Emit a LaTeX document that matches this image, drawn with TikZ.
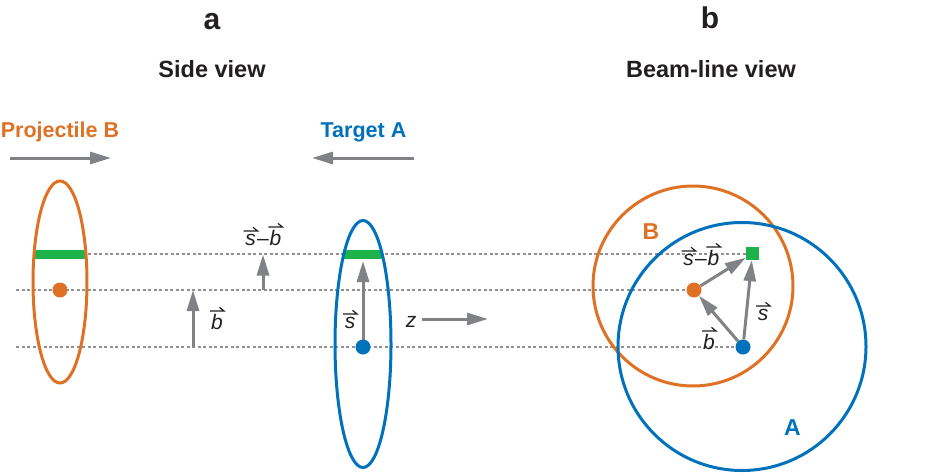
\documentclass[tikz,border=0pt]{standalone}
\usepackage{fontspec}
\setmainfont{Liberation Sans}
\usetikzlibrary{arrows.meta}
\definecolor{borange}{RGB}{222,113,36}
\definecolor{tblue}{RGB}{0,114,188}
\definecolor{sgreen}{RGB}{30,178,74}
\definecolor{agray}{RGB}{128,130,133}
\definecolor{lgray}{RGB}{145,145,145}
\definecolor{ink}{RGB}{35,31,32}
\newcommand\harpmark{\tikz[baseline=0pt]{\draw[ink, line width=1.2pt, line join=miter] (0pt,0pt) -- (14pt,0pt) -- (9.5pt,3.6pt);}}
\newcommand\vecl[1]{\vbox{\offinterlineskip\halign{\hfil##\hfil\cr\harpmark\cr\noalign{\kern2.2pt}\itshape #1\cr}}}
\begin{document}
\begin{tikzpicture}[x=1pt,y=-1pt,
  garrow/.style={draw=agray, line width=3pt, -{Triangle[length=21pt,width=12pt]}},
  guide/.style={draw=lgray, line width=1.2pt, dash pattern=on 3pt off 2.5pt},
  title/.style={font=\fontsize{23.5}{28}\bfseries\selectfont, text=ink, anchor=base, inner sep=0pt},
  panel/.style={font=\fontsize{30}{34}\bfseries\selectfont, text=ink, anchor=base, inner sep=0pt},
  lab/.style={font=\fontsize{21.5}{25}\bfseries\selectfont, anchor=base, inner sep=0pt},
  vlab/.style={font=\fontsize{21}{25}\selectfont, text=ink, anchor=base, inner sep=0pt},
  dot/.style={circle, inner sep=0pt, minimum size=15pt},
  ring/.style={line width=3pt}]
\useasboundingbox (0,0) rectangle (948,474);

% titles
\node[panel] (pa) at (212,29) {a};
\node[panel] (pb) at (710,28) {b};
\node[title] (sv) at (212,77) {Side view};
\node[title] (bv) at (711,77) {Beam-line view};
\node[lab, text=borange] (proj) at (60,137) {Projectile B};
\node[lab, text=tblue] (targ) at (363.5,137) {Target A};

% motion arrows
\coordinate (pr0) at (10,158); \coordinate (pr1) at (111,158);
\coordinate (ta0) at (414,158); \coordinate (ta1) at (312,158);
\draw[garrow] (pr0) -- (pr1);
\draw[garrow] (ta0) -- (ta1);

% key centres
\coordinate (Oc1) at (60,290);
\coordinate (Bc1) at (363,347);
\coordinate (Oc2) at (694,290);
\coordinate (Bc2) at (743,347);
\coordinate (Sq) at (752.5,253.5);

% guide lines
\coordinate (g1) at (88,254); \coordinate (g1e) at (746,254);
\coordinate (g2) at (16,290);
\coordinate (g3) at (16,347);
\draw[guide] (g1) -- (g1e);
\draw[guide] (g2) -- (Oc2);
\draw[guide] (g3) -- (Bc2);

% side view: projectile B
\begin{scope}
  \clip (60,282) ellipse [x radius=27, y radius=101];
  \fill[sgreen] (30,249.5) rectangle (90,258.5);
\end{scope}
\draw[borange, ring] (60,282) ellipse [x radius=27, y radius=101];
\node[dot, fill=borange] (od1) at (Oc1) {};

% side view: target A
\begin{scope}
  \clip (363,344) ellipse [x radius=28, y radius=123.5];
  \fill[sgreen] (330,249.5) rectangle (400,258.5);
\end{scope}
\draw[tblue, ring] (363,344) ellipse [x radius=28, y radius=123.5];
\coordinate (s1) at (363,261);
\draw[garrow] (Bc1) -- (s1);
\node[dot, fill=tblue] (bd1) at (Bc1) {};

% b and s-b arrows
\coordinate (b0) at (193,347); \coordinate (b1) at (193,290);
\draw[garrow] (b0) -- (b1);
\coordinate (sb0) at (263,290); \coordinate (sb1) at (263,254.5);
\draw[garrow] (sb0) -- (sb1);
\node[vlab] (lb1) at (217,329) {\vecl{b}};
\node[vlab] (lsb1) at (263,245) {\vecl{s}\kern-1pt–\kern-1pt\vecl{b}};
\node[vlab] (ls1) at (350,328) {\vecl{s}};

% z axis
\node[vlab] (lz) at (411,327) {\itshape z};
\coordinate (z0) at (422,319); \coordinate (z1) at (488,319);
\draw[garrow] (z0) -- (z1);

% beam-line view
\draw[borange, ring] (693,286) circle [radius=100];
\draw[tblue, ring] (742,346.5) circle [radius=124];
\node[dot, fill=borange] (od2) at (Oc2) {};
\node[dot, fill=tblue] (bd2) at (Bc2) {};
\node[fill=sgreen, inner sep=0pt, minimum size=13pt] (sq) at (Sq) {};
\draw[garrow] (bd2) -- (od2);
\draw[garrow] (bd2) -- (sq);
\draw[garrow] (od2) -- (sq);
\node[lab, text=borange, font=\fontsize{23}{27}\bfseries\selectfont] (lB) at (651,239) {B};
\node[lab, text=tblue, font=\fontsize{23}{27}\bfseries\selectfont] (lA) at (792.5,435) {A};
\node[vlab] (lsb2) at (701,265) {\vecl{s}\kern-1pt–\kern-1pt\vecl{b}};
\node[vlab] (lb2) at (709,349) {\vecl{b}};
\node[vlab] (ls2) at (763,320) {\vecl{s}};
\end{tikzpicture}
\end{document}
